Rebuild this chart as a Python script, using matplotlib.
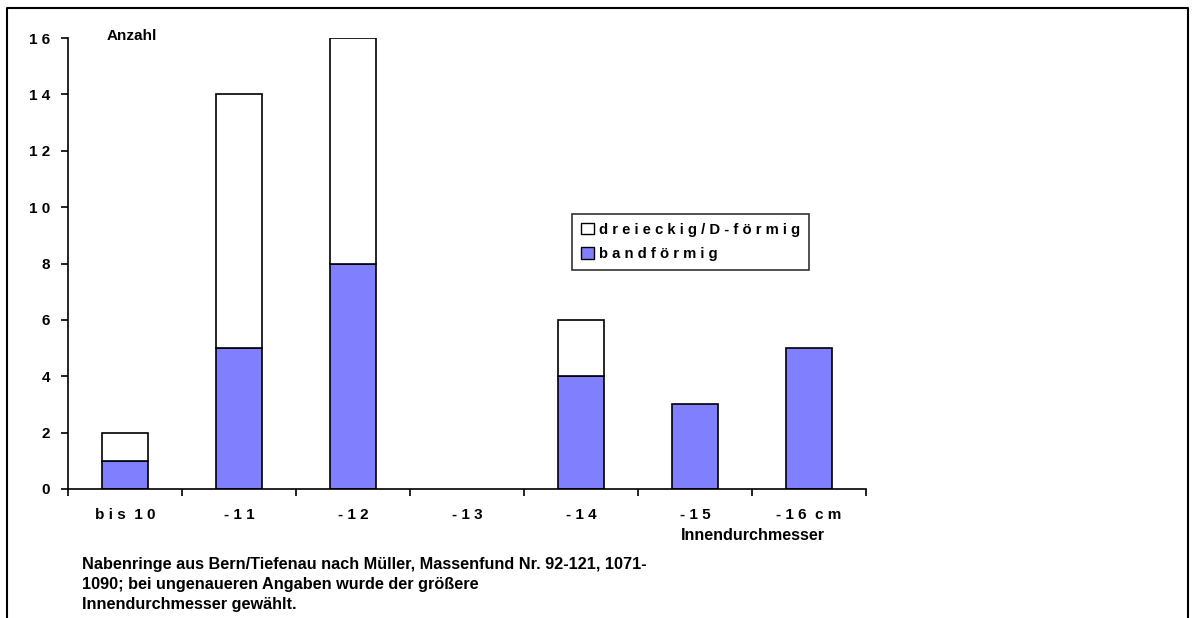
import matplotlib.pyplot as plt
from matplotlib.lines import Line2D
from matplotlib.patches import Patch

# data
categories = ["b i s  1 0", "- 1 1", "- 1 2", "- 1 3", "- 1 4", "- 1 5", "- 1 6  c m"]
bandfoermig = [1, 5, 8, 0, 4, 3, 5]
dreieckig = [1, 9, 8, 0, 2, 0, 0]
yticks = [0, 2, 4, 6, 8, 10, 12, 14, 16]

plt.rcParams['font.family'] = ['Liberation Sans', 'DejaVu Sans']
plt.rcParams['font.weight'] = 'bold'

W, H = 1198, 618
fs = 11
fig = plt.figure(figsize=(W / 100, H / 100), dpi=100)
ax = fig.add_axes([68 / W, 1 - 489 / H, (866 - 68) / W, (489 - 38) / H])

x = list(range(len(categories)))
blue = '#8080ff'
b1 = ax.bar(x, bandfoermig, width=0.41, color=blue, edgecolor='black', linewidth=1.2)
b2 = ax.bar(x, dreieckig, width=0.41, bottom=bandfoermig, color='white', edgecolor='black', linewidth=1.2)
# empty segments are not drawn in the original
for bars in (b1, b2):
    for p in bars:
        if p.get_height() == 0:
            p.set_visible(False)

ax.set_xlim(-0.5, len(categories) - 0.5)
ax.set_ylim(0, 16)
ax.set_yticks(yticks)
ax.set_yticklabels([" ".join(str(v)) for v in yticks], fontsize=fs, fontweight='bold')
ax.set_xticks(x)
ax.set_xticklabels(categories, fontsize=fs, fontweight='bold')
ax.tick_params(axis='x', length=0, pad=14)
ax.set_xticks([i + 0.5 for i in range(-1, len(categories))], minor=True)
ax.tick_params(axis='x', which='minor', length=5, width=1.2)
ax.tick_params(axis='y', length=5, width=1.2, pad=8)
for s in ['top', 'right']:
    ax.spines[s].set_visible(False)
for s in ['left', 'bottom']:
    ax.spines[s].set_linewidth(1.2)

fig.text(107 / W, 1 - 36 / H, "Anzahl", fontsize=fs, fontweight='bold', ha='left', va='center')
fig.text(753 / W, 1 - 536 / H, "Innendurchmesser", fontsize=11.6, fontweight='bold', ha='center', va='center')

note = ("Nabenringe aus Bern/Tiefenau nach Müller, Massenfund Nr. 92-121, 1071-\n"
        "1090; bei ungenaueren Angaben wurde der größere\n"
        "Innendurchmesser gewählt.")
fig.text(82 / W, 1 - 557 / H, note, fontsize=11.7, fontweight='bold', ha='left', va='top', linespacing=1.4)

handles = [Patch(facecolor='white', edgecolor='black', label="d r e i e c k i g / D - f ö r m i g"),
           Patch(facecolor=blue, edgecolor='black', label="b a n d f ö r m i g")]
leg = fig.legend(handles=handles, loc='upper left', bbox_to_anchor=(572 / W, 1 - 214 / H),
                 frameon=True, fancybox=False, edgecolor='black', fontsize=10.7,
                 handlelength=0.9, handleheight=0.8, handletextpad=0.3, borderpad=0.6,
                 labelspacing=0.7, borderaxespad=0)
leg.get_frame().set_linewidth(1.2)
for t in leg.get_texts():
    t.set_fontweight('bold')

# outer frame, open at the bottom
fx0, fx1, fy1 = 7 / W, 1188 / W, 1 - 8 / H
fig.add_artist(Line2D([fx0, fx0, fx1, fx1], [0, fy1, fy1, 0], color='black', lw=1.5,
                      transform=fig.transFigure))

fig.savefig("out.png", dpi=100)
